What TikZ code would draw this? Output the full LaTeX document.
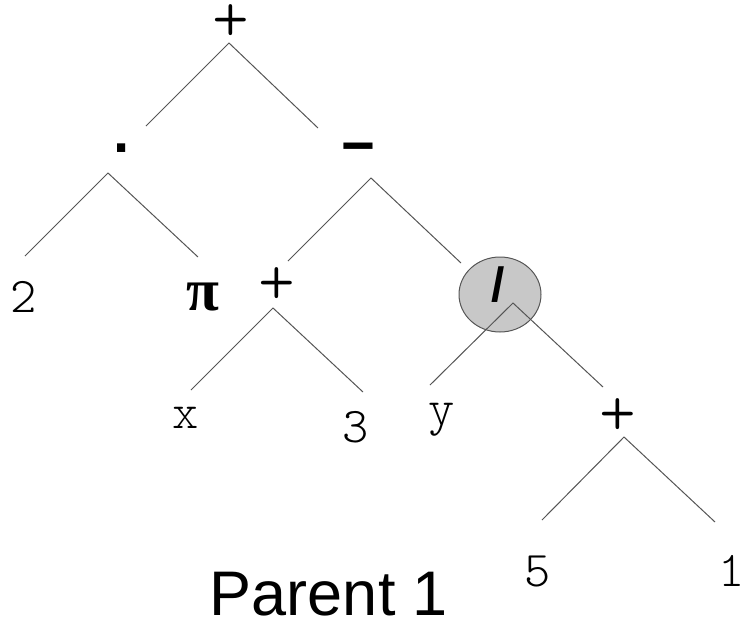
\documentclass[tikz,border=0pt]{standalone}
\usepackage{fontspec}
\setsansfont{Liberation Sans}
\newfontfamily\greekfont{Liberation Serif}
\newfontfamily\thinmono{lmmonolt10-regular.otf}
\usetikzlibrary{positioning,shapes.geometric}
\definecolor{nodeshade}{HTML}{C8C8C8}
\definecolor{branchgray}{HTML}{555555}

\begin{document}
\begin{tikzpicture}[
    x=1pt, y=-1pt,
    on grid,
    leaf/.style={font=\thinmono\fontsize{50}{50}\selectfont, inner sep=0pt},
    plus/.style={font=\thinmono\fontsize{70}{70}\selectfont, inner sep=0pt},
    op/.style={font=\sffamily\bfseries\fontsize{58}{58}\selectfont, inner sep=0pt},
    greek/.style={font=\greekfont\bfseries\fontsize{60}{60}\selectfont, inner sep=0pt},
    marked/.style={ellipse, draw=branchgray, fill=nodeshade, line width=1pt, minimum width=82pt, minimum height=75pt, inner sep=0pt},
    branch/.style={draw=branchgray, line width=1pt},
    caption/.style={font=\sffamily\fontsize{63}{63}\selectfont, anchor=base, inner sep=0pt}
]
    \useasboundingbox (0,0) rectangle (744,622);

    % Nodes
    \node [plus] (root) at (231,23) {+};
    \node [op, below left=121pt and 108pt of root] (dot) {\raisebox{-12pt}[\height][\depth]{·}};
    \node [op, below right=124pt and 127pt of root] (minus) {\raisebox{-7pt}[\height][\depth]{−}};
    \node [leaf, below left=153pt and 99pt of dot] (two) {2};
    \node [greek, below right=153pt and 80pt of dot] (pi) {π};
    \node [plus, below left=139pt and 81pt of minus] (sum) {+};
    \node [marked, below right=147.5pt and 142pt of minus] (divmark) {};
    \node [op, font=\sffamily\bfseries\fontsize{48}{48}\selectfont] (div) at ([shift={(-2,-9.5)}]divmark.center) {/};
    \node [leaf, below left=132pt and 91pt of sum] (xvar) {x};
    \node [leaf, below right=141pt and 79pt of sum] (three) {3};
    \node [leaf, below left=125.5pt and 58pt of divmark] (yvar) {y};
    \node [plus, below right=122.5pt and 118pt of divmark] (inner) {+};
    \node [leaf, below left=154pt and 80pt of inner] (five) {5};
    \node [leaf, below right=154pt and 114pt of inner] (one) {1};
    \node [caption] (title) at (329,615) {Parent 1};

    % Paths
    \path [branch] ([shift={(23,-18)}]dot.center) -- ([shift={(-2,20)}]root.center) -- ([shift={(-40,-19)}]minus.center);
    \path [branch] ([shift={(1,-41)}]two.center) -- ([shift={(-15,29)}]dot.center) -- ([shift={(-5,-40)}]pi.center);
    \path [branch] ([shift={(11,-25)}]sum.center) -- ([shift={(13,31)}]minus.center) -- ([shift={(-39,-31.5)}]divmark.center);
    \path [branch] ([shift={(5,-28)}]xvar.center) -- ([shift={(-4,22)}]sum.center) -- ([shift={(7,-35)}]three.center);
    \path [branch] ([shift={(-12,-35)}]yvar.center) -- ([shift={(13,8.5)}]divmark.center) -- ([shift={(-15,-30)}]inner.center);
    \path [branch] ([shift={(4,-51)}]five.center) -- ([shift={(6,20)}]inner.center) -- ([shift={(-17,-49)}]one.center);

\end{tikzpicture}
\end{document}
